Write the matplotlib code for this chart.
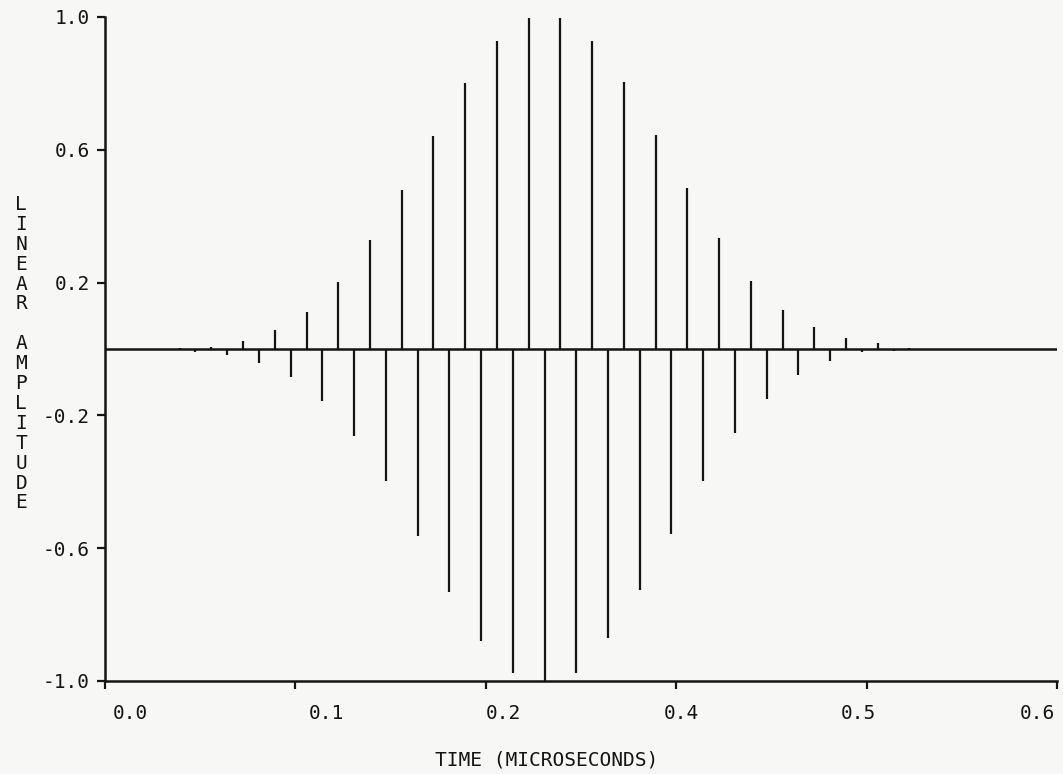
import matplotlib
matplotlib.use("Agg")
import matplotlib.pyplot as plt

# sample times (microseconds) and amplitudes
times = [0.037, 0.047, 0.057, 0.067, 0.077, 0.087, 0.097, 0.107, 0.117, 0.127,
         0.137, 0.147, 0.157, 0.167, 0.177, 0.187, 0.197, 0.207, 0.217, 0.227,
         0.237, 0.247, 0.257, 0.267, 0.277, 0.287, 0.297, 0.307, 0.317, 0.327,
         0.337, 0.347, 0.357, 0.367, 0.377, 0.387, 0.397, 0.407, 0.417, 0.427,
         0.437, 0.447, 0.457, 0.467, 0.477, 0.487, 0.497, 0.507]
amps = [-0.002, 0.004, -0.010, 0.005, -0.017, 0.024, -0.043, 0.056, -0.085, 0.111,
        -0.158, 0.202, -0.261, 0.327, -0.399, 0.480, -0.563, 0.641, -0.731, 0.800,
        -0.879, 0.927, -0.977, 0.998, -1.000, 0.996, -0.975, 0.927, -0.872, 0.803,
        -0.726, 0.643, -0.556, 0.484, -0.397, 0.333, -0.254, 0.204, -0.150, 0.118,
        -0.080, 0.066, -0.035, 0.034, -0.010, 0.017, -0.006, 0.003]

xticks = [0.0, 0.12, 0.24, 0.36, 0.48, 0.6]
xlabels = ["0.0", "0.1", "0.2", "0.4", "0.5", "0.6"]
xlabel_shift = [25, 31, 18, 5, -8, -20]   # plotter put labels a bit off the ticks
yticks = [1.0, 0.6, 0.2, -0.2, -0.6, -1.0]
ylabels = ["1.0", "0.6", "0.2", "-0.2", "-0.6", "-1.0"]

ink = "#141414"
paper = "#f7f7f5"
font = "DejaVu Sans Mono"

fig = plt.figure(figsize=(10.63, 7.74), dpi=100, facecolor=paper)
ax = fig.add_axes([0.0988, 0.1202, 0.8956, 0.858])
ax.set_facecolor(paper)

ax.axhline(0, color=ink, lw=1.8)
ax.vlines(times, 0, amps, color=ink, lw=1.6)

ax.set_xlim(0, 0.6)
ax.set_ylim(-1.0, 1.0)
for s in ["top", "right"]:
    ax.spines[s].set_visible(False)
for s in ["left", "bottom"]:
    ax.spines[s].set_color(ink)
    ax.spines[s].set_linewidth(1.8)

ax.set_xticks(xticks)
ax.set_xticklabels([])
ax.set_yticks(yticks)
ax.set_yticklabels(ylabels, fontfamily=font, fontsize=14, color=ink)
ax.tick_params(axis="both", direction="out", length=6, width=1.6, color=ink)
ax.tick_params(axis="y", pad=5)

for t, lbl, dx in zip(xticks, xlabels, xlabel_shift):
    ax.annotate(lbl, xy=(t, 0), xycoords=("data", "axes fraction"),
                xytext=(dx, -33), textcoords="offset pixels",
                ha="center", va="center", fontfamily=font, fontsize=14, color=ink)

fig.text(0.514, 0.018, "TIME (MICROSECONDS)", ha="center", va="center",
         fontfamily=font, fontsize=14, color=ink)
fig.text(0.02, 0.543, "\n".join("LINEAR AMPLITUDE"), ha="center", va="center",
         fontfamily=font, fontsize=14, color=ink, linespacing=1.06)

fig.savefig("out.png", dpi=100, facecolor=paper)
